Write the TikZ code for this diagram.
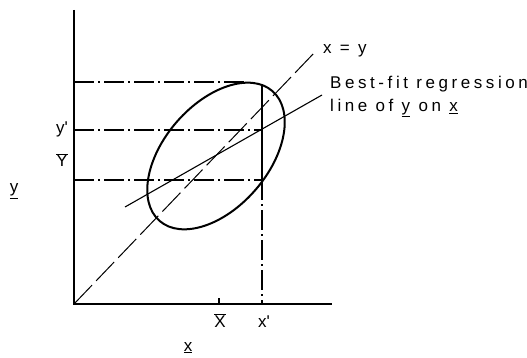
\documentclass[tikz,border=0pt]{standalone}
\usepackage{fontspec}
\setmainfont{Liberation Sans}
\newfontfamily\spacedfont{Liberation Sans}[LetterSpace=21]
\begin{document}
\begin{tikzpicture}[x=1pt,y=-1pt,
  axis/.style={line width=1.2pt},
  dashdot/.style={line width=1.3pt, dash pattern=on 20pt off 4pt on 2pt off 4pt},
  longdash/.style={line width=1pt, dash pattern=on 26pt off 6pt},
  thickline/.style={line width=2pt},
  thinline/.style={line width=1.1pt},
  lbl/.style={inner sep=0pt, font=\fontsize{17}{20}\selectfont},
  slbl/.style={inner sep=0pt, font=\fontsize{17}{20}\spacedfont}]
\useasboundingbox (0,0) rectangle (527,358);
% key points
\coordinate (O) at (74,304);
\coordinate (Ytop) at (74,10);
\coordinate (Xend) at (332,304);
\coordinate (C) at (216,156);
\coordinate (T0) at (74,82);
\coordinate (T1) at (246,82);
\coordinate (M0) at (74,130);
\coordinate (M1) at (262,130);
\coordinate (B0) at (74,180);
\coordinate (B1) at (262,180);
\coordinate (V0) at (262,84);
\coordinate (Xp) at (262,304);
\coordinate (Xb) at (219,304);
\coordinate (Xbt) at (219,298);
\coordinate (R0) at (125,207);
\coordinate (R1) at (322,95);
\coordinate (D1) at (315,52);
% axes
\draw[axis] (Ytop) -- (O) -- (Xend);
\draw[axis] (Xb) -- (Xbt);
% ellipse
\draw[thickline, rotate around={49:(C)}] (C) ellipse [x radius=86pt, y radius=52pt];
% dash-dot guides
\draw[dashdot] (T0) -- (T1);
\draw[dashdot] (M0) -- (M1);
\draw[dashdot] (B0) -- (B1);
\draw[thickline] (V0) -- (B1);
\draw[dashdot] (B1) -- (Xp);
% lines
\draw[thinline] (R0) -- (R1);
\draw[longdash] (O) -- (D1);
% labels
\node[slbl, anchor=base west] (lxy) at (323,54) {x = y};
\node[slbl, anchor=base west] (lbest1) at (330,88.5) {Best-fit regression};
\node[slbl, anchor=base west] (lbest2) at (330,111.5) {line of \underline{y} on \underline{x}};
\node[lbl, anchor=base west] (lyp) at (56,134) {y\textquotesingle};
\node[lbl, anchor=base] (lYb) at (62,167) {$\overline{\hbox{Y}}$};
\node[lbl, anchor=base] (lXb) at (220,327) {$\overline{\hbox{X}}$};
\node[lbl, anchor=base] (lxp) at (264,327) {x\textquotesingle};
\node[lbl, anchor=base] (lx) at (188,351) {\underline{x}};
\node[lbl, anchor=base] (ly) at (14,193) {\underline{y}};
\end{tikzpicture}
\end{document}
